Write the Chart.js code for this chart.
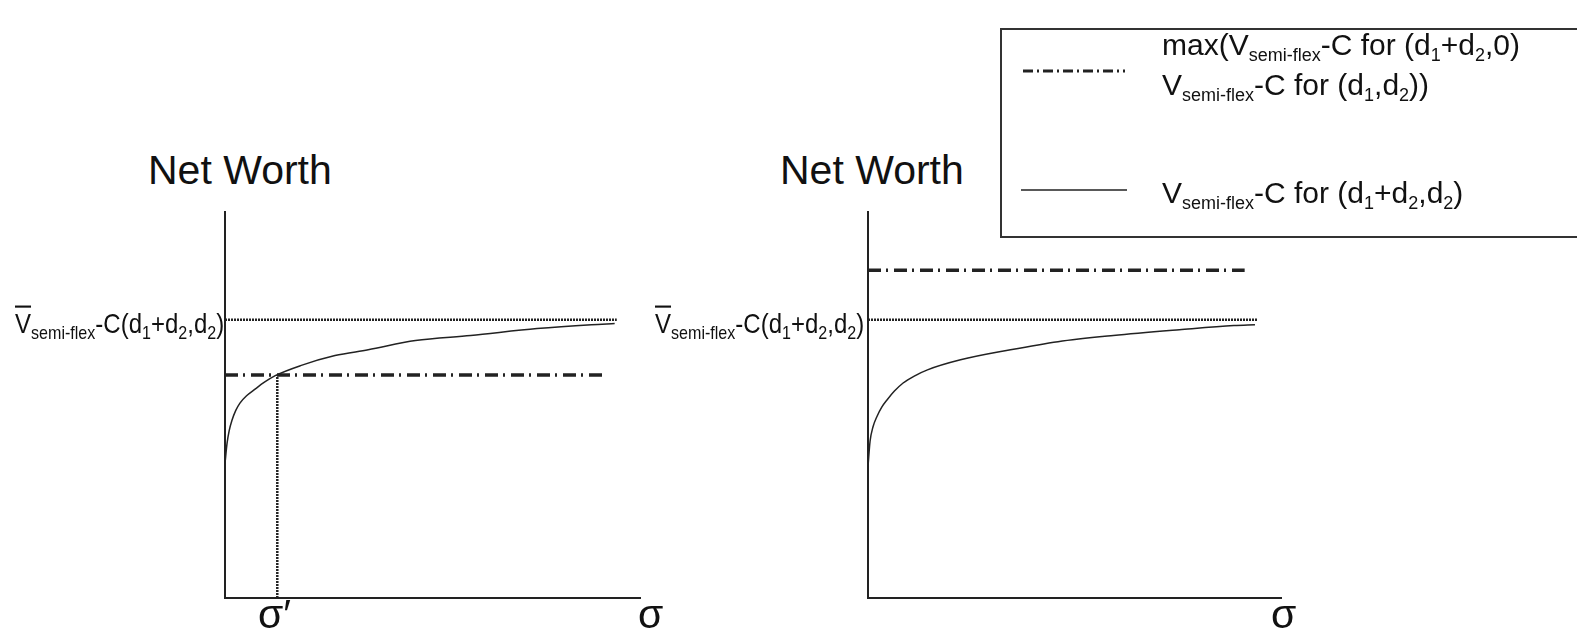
<!DOCTYPE html>
<html>
<head>
<meta charset="utf-8">
<script src="https://cdn.jsdelivr.net/npm/chart.js@4.4.1/dist/chart.umd.min.js"></script>
<style>
  html, body { margin: 0; padding: 0; background: #fff; }
  body { width: 1577px; height: 634px; position: relative; overflow: hidden;
         font-family: "Liberation Sans", Arial, sans-serif; color: #111; }
  canvas { position: absolute; }
  .txt { position: absolute; white-space: nowrap; line-height: 1; }
  .big { font-size: 41px; }
  .lab { font-size: 24px; transform: scale(1, 1.17); transform-origin: 0 0; }
  .lab sub { font-size: 0.67em; vertical-align: -0.32em; line-height: 0; }
  .leg sub { font-size: 0.6em; vertical-align: -0.34em; line-height: 0; }
  .bar { text-decoration: overline; text-decoration-thickness: 2px; }
  .legbox { position: absolute; left: 1000px; top: 28px; width: 640px; height: 210px;
            border: 2px solid #333; box-sizing: border-box; }
  .leg { font-size: 30px; }
</style>
</head>
<body>
<canvas id="left" width="435" height="406" style="left:215px;top:202px"></canvas>
<canvas id="right" width="433" height="406" style="left:858px;top:202px"></canvas>

<div class="txt big" style="left:148px;top:150px">Net Worth</div>
<div class="txt big" style="left:780px;top:150px">Net Worth</div>

<div class="txt lab" style="left:15px;top:310px"><span class="bar">V</span><sub>semi-flex</sub>-C(d<sub>1</sub>+d<sub>2</sub>,d<sub>2</sub>)</div>
<div class="txt lab" style="left:655px;top:310px"><span class="bar">V</span><sub>semi-flex</sub>-C(d<sub>1</sub>+d<sub>2</sub>,d<sub>2</sub>)</div>

<div class="txt big" style="left:258px;top:594px">σ′</div>
<div class="txt big" style="left:638px;top:594px">σ</div>
<div class="txt big" style="left:1271px;top:594px">σ</div>

<div class="legbox"></div>
<svg style="position:absolute;left:1020px;top:60px" width="110" height="140">
  <line x1="3" y1="11" x2="105" y2="11" stroke="#222" stroke-width="3" stroke-dasharray="10,4,2,4"/>
  <line x1="1" y1="130" x2="107" y2="130" stroke="#222" stroke-width="1.5"/>
</svg>
<div class="txt leg" style="left:1162px;top:30px">max(V<sub>semi-flex</sub>-C for (d<sub>1</sub>+d<sub>2</sub>,0)</div>
<div class="txt leg" style="left:1162px;top:70px">V<sub>semi-flex</sub>-C for (d<sub>1</sub>,d<sub>2</sub>))</div>
<div class="txt leg" style="left:1162px;top:178px">V<sub>semi-flex</sub>-C for (d<sub>1</sub>+d<sub>2</sub>,d<sub>2</sub>)</div>

<script>
// curve: sigma (0-100) against net worth (0-100)
const curveSigmaL = [0, 0.5, 1.0, 1.7, 2.6, 3.6, 5.2, 7.0, 9.5, 12.1, 18.2, 26.5, 34.5, 45.9, 59.2, 75.2, 88.3, 93.9];
const curveWorthL = [34.9, 40.1, 43.3, 46.1, 48.6, 50.5, 52.4, 53.9, 55.9, 57.6, 60.2, 62.8, 64.3, 66.7, 68.0, 69.8, 70.8, 71.1];
const curveSigmaR = [0, 0.5, 1.2, 2.2, 3.3, 4.6, 6.4, 8.5, 11.2, 14.4, 22.4, 34.5, 46.0, 59.4, 75.4, 88.6, 93.7];
const curveWorthR = [34.1, 40.6, 44.3, 47.1, 49.4, 51.3, 53.6, 55.7, 57.5, 59.1, 61.7, 64.3, 66.4, 68.0, 69.5, 70.6, 70.8];

// horizontal levels and where they stop
const capLevel = 72.1;              // V-bar semi-flex - C(d1+d2,d2)
const capEnd = [94.4, 94.2];        // left, right
const maxLevel = [57.8, 84.9];      // dash-dot level, left and right
const maxEnd = [91.3, 91.2];
const sigmaPrime = 12.6;            // crossing point in the left panel

const ink = '#222';

function pts(xs, ys) {
    return xs.map((x, i) => ({ x: x, y: ys[i] }));
}

function makeChart(id, sx, sy, side, extra) {
    const datasets = [
        {
            data: pts(sx, sy),
            borderColor: ink, borderWidth: 1.5,
            cubicInterpolationMode: 'monotone'
        },
        {
            data: [{ x: 0, y: capLevel }, { x: capEnd[side], y: capLevel }],
            borderColor: ink, borderWidth: 2.5, borderDash: [2, 1]
        },
        {
            data: [{ x: 0, y: maxLevel[side] }, { x: maxEnd[side], y: maxLevel[side] }],
            borderColor: ink, borderWidth: 3.5, borderDash: [13, 5, 2, 6]
        }
    ].concat(extra);

    return new Chart(document.getElementById(id).getContext('2d'), {
        type: 'scatter',
        data: { datasets: datasets.map(d => Object.assign({ showLine: true, pointRadius: 0, fill: false }, d)) },
        options: {
            responsive: false,
            animation: false,
            devicePixelRatio: 1,
            layout: { padding: 10 },
            plugins: { legend: { display: false }, tooltip: { enabled: false } },
            scales: {
                x: {
                    type: 'linear', min: 0, max: 100,
                    ticks: { display: false },
                    grid: { display: false, drawTicks: false },
                    border: { display: true, color: ink, width: 2 }
                },
                y: {
                    type: 'linear', min: 0, max: 100,
                    ticks: { display: false },
                    grid: { display: false, drawTicks: false },
                    border: { display: true, color: ink, width: 2 }
                }
            }
        }
    });
}

makeChart('left', curveSigmaL, curveWorthL, 0, [{
    data: [{ x: sigmaPrime, y: 0 }, { x: sigmaPrime, y: maxLevel[0] }],
    borderColor: ink, borderWidth: 2.5, borderDash: [2, 1]
}]);
makeChart('right', curveSigmaR, curveWorthR, 1, []);
</script>
</body>
</html>
